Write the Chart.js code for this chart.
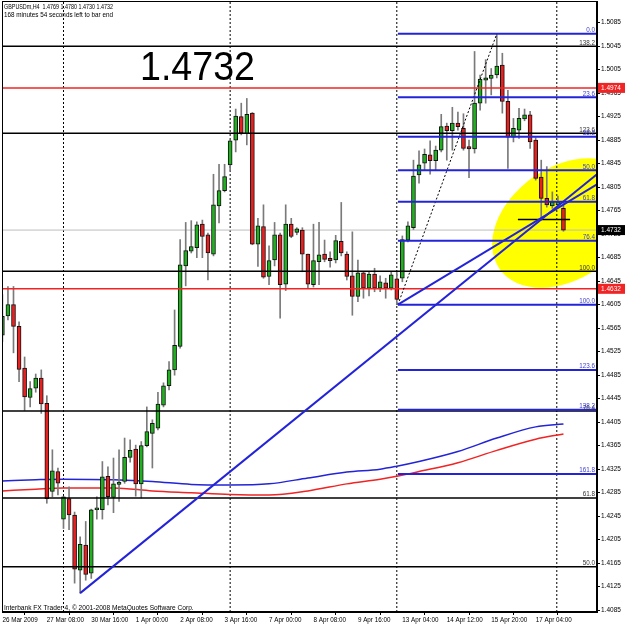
<!DOCTYPE html>
<html><head><meta charset="utf-8">
<script src="https://cdn.jsdelivr.net/npm/chart.js@4.4.1/dist/chart.umd.min.js"></script>
<style>html,body{margin:0;padding:0;background:#fff}canvas{display:block}</style>
</head><body>
<canvas id="c" width="625" height="625"></canvas>
<script>
// ---- DATA (GBPUSDm, H4) ----
const opens = [1.4553,1.4586,1.4605,1.4568,1.4497,1.4447,1.4463,1.4480,1.4437,1.4287,
1.4321,1.4240,1.4275,1.4247,1.4153,1.4196,1.4148,1.4256,1.4256,1.4313,
1.4277,1.4299,1.4304,1.4345,1.4359,1.4300,1.4365,1.4386,1.4395,1.4434,
1.4467,1.4494,1.4534,1.4671,1.4696,1.4702,1.4742,1.4724,1.4691,1.4773,
1.4799,1.4843,1.4885,1.4925,1.4896,1.4931,1.4708,1.4738,1.4653,1.4681,
1.4724,1.4640,1.4742,1.4728,1.4732,1.4691,1.4639,1.4678,1.4691,1.4684,
1.4681,1.4713,1.4691,1.4654,1.4619,1.4659,1.4633,1.4657,1.4633,1.4642,
1.4633,1.4649,1.4650,1.4715,1.4736,1.4826,1.4846,1.4860,1.4850,1.4868,
1.4909,1.4901,1.4914,1.4905,1.4874,1.4870,1.4948,1.4987,1.4990,1.4996,
1.5013,1.4951,1.4890,1.4902,1.4921,1.4928,1.4885,1.4822,1.4786,1.4773,
1.4775,1.4769];
const highs = [1.4622,1.4636,1.4636,1.4576,1.4516,1.4474,1.4487,1.4494,1.4450,1.4358,
1.4327,1.4279,1.4295,1.4252,1.4210,1.4236,1.4257,1.4278,1.4338,1.4329,
1.4344,1.4358,1.4378,1.4375,1.4366,1.4372,1.4431,1.4409,1.4456,1.4472,
1.4508,1.4596,1.4716,1.4745,1.4748,1.4746,1.4749,1.4727,1.4827,1.4844,
1.4844,1.4885,1.4938,1.4948,1.4956,1.4932,1.4752,1.4775,1.4705,1.4745,
1.4727,1.4775,1.4752,1.4736,1.4736,1.4691,1.4742,1.4745,1.4715,1.4695,
1.4723,1.4779,1.4695,1.4729,1.4681,1.4661,1.4661,1.4667,1.4654,1.4650,
1.4661,1.4660,1.4722,1.4746,1.4851,1.4867,1.4870,1.4884,1.4875,1.4929,
1.4914,1.4941,1.4933,1.4930,1.4885,1.5036,1.4996,1.5022,1.5007,1.5066,
1.5033,1.4970,1.4922,1.4939,1.4938,1.4934,1.4889,1.4851,1.4840,1.4797,
1.4790,1.4780];
const lows = [1.4542,1.4579,1.4523,1.4474,1.4425,1.4431,1.4456,1.4420,1.4267,1.4278,
1.4281,1.4224,1.4222,1.4131,1.4114,1.4136,1.4139,1.4240,1.4240,1.4264,
1.4251,1.4270,1.4301,1.4337,1.4279,1.4276,1.4363,1.4327,1.4392,1.4431,
1.4460,1.4485,1.4531,1.4637,1.4693,1.4685,1.4685,1.4647,1.4688,1.4744,
1.4797,1.4834,1.4865,1.4894,1.4877,1.4707,1.4670,1.4650,1.4639,1.4671,
1.4582,1.4629,1.4719,1.4724,1.4661,1.4633,1.4635,1.4639,1.4678,1.4669,
1.4676,1.4688,1.4647,1.4587,1.4610,1.4616,1.4620,1.4627,1.4627,1.4616,
1.4630,1.4605,1.4644,1.4712,1.4733,1.4812,1.4834,1.4827,1.4834,1.4865,
1.4851,1.4868,1.4902,1.4868,1.4821,1.4863,1.4936,1.4948,1.4962,1.4991,
1.4931,1.4837,1.4882,1.4888,1.4918,1.4871,1.4817,1.4749,1.4771,1.4769,
1.4771,1.4730];
const closes = [1.4585,1.4605,1.4568,1.4495,1.4448,1.4462,1.4480,1.4436,1.4275,1.4322,
1.4301,1.4278,1.4247,1.4155,1.4197,1.4146,1.4256,1.4259,1.4312,1.4278,
1.4300,1.4303,1.4345,1.4357,1.4300,1.4365,1.4389,1.4403,1.4436,1.4467,
1.4494,1.4536,1.4673,1.4697,1.4704,1.4741,1.4721,1.4693,1.4775,1.4799,
1.4823,1.4884,1.4926,1.4897,1.4929,1.4708,1.4739,1.4652,1.4680,1.4724,
1.4639,1.4742,1.4721,1.4734,1.4691,1.4640,1.4680,1.4690,1.4682,1.4680,
1.4714,1.4693,1.4653,1.4619,1.4659,1.4633,1.4657,1.4633,1.4644,1.4633,
1.4656,1.4614,1.4716,1.4739,1.4824,1.4843,1.4861,1.4850,1.4868,1.4908,
1.4901,1.4914,1.4908,1.4871,1.4870,1.4948,1.4989,1.4991,1.4996,1.5011,
1.4951,1.4890,1.4905,1.4922,1.4928,1.4882,1.4820,1.4786,1.4775,1.4780,
1.4780,1.4732];

// moving averages (sampled at bar indexes)
const maIdx  = [0,6,11,20,27,34,41,48,55,62,68,71,75,82,89,96,101];
const maBlue = [1.4305,1.4307,1.4308,1.4307,1.4304,1.4299,1.4298,1.4300,1.4310,1.4320,1.4325,1.4330,1.4338,1.4355,1.4378,1.4397,1.4402];
const maRed  = [1.4288,1.4291,1.4293,1.4293,1.4288,1.4285,1.4282,1.4281,1.4288,1.4300,1.4308,1.4313,1.4321,1.4336,1.4357,1.4376,1.4385];

// fibonacci levels
const blueFibLevels = [1.5066,1.4958,1.4891,1.4834,1.4780,1.4714,1.4605,1.4494,1.4426,1.4317];
const blueFibLabels = ['0.0','23.6','38.2','50.0','61.8','76.4','100.0','123.6','138.2','161.8'];
const blueFibStart = 71.2;
const blackFibLevels = [1.5045,1.4897,1.4662,1.4424,1.4276,1.4159];
const blackFibLabels = ['138.2','123.6','100.0','76.4','61.8','50.0'];
const redLevels = [1.4974,1.4632];
const bidPrice = 1.4732;

// trend lines [x0,y0,x1,y1] (bar index / price)
const trendLines = [[14,1.4114,107.04,1.4827],[71.2,1.4605,107.04,1.4810]];
const fibDiagonal = [71.2,1.4605,89,1.5066];
const shortSegment = [92.8,1.4750,102.2,1.4750];
const separators = [11,41,71,99.8];
const ellipse = {x:101.3, y:1.4744, rx:14.4, ry:0.0095, rot:-35};

// axes
const xTickIdx = [0,8,16,24,32,40,48,56,64,72,80,88,96];
const xTickLabels = ['26 Mar 2009','27 Mar 08:00','30 Mar 16:00','1 Apr 00:00','2 Apr 08:00','3 Apr 16:00','7 Apr 00:00','8 Apr 08:00','9 Apr 16:00','13 Apr 04:00','14 Apr 12:00','15 Apr 20:00','17 Apr 04:00'];
const yTicks = [1.5085,1.5045,1.5005,1.4965,1.4925,1.4885,1.4845,1.4805,1.4765,1.4725,1.4685,1.4645,1.4605,1.4565,1.4525,1.4485,1.4445,1.4405,1.4365,1.4325,1.4285,1.4245,1.4205,1.4165,1.4125,1.4085];
const X_MIN = -0.07, X_MAX = 107.04, Y_MIN = 1.40819, Y_MAX = 1.51219;

const headerText1 = 'GBPUSDm,H4  1.4769 1.4780 1.4730 1.4732';
const headerText2 = '168 minutes 54 seconds left to bar end';
const bigText = '1.4732';
const footerText = 'Interbank FX Trader 4, \u00A9 2001-2008 MetaQuotes Software Corp.';

// ---- CHART ----
const FONT = '"Liberation Sans", Arial, sans-serif';
const GREEN = '#20b020', RED = '#e82020', BLUE = '#2323d8', LRED = '#f02424';
const idx = opens.map((_, i) => i);

const hline = (lv, x0, color, w, order) => ({type:'line', data:[{x:x0,y:lv},{x:X_MAX,y:lv}], borderColor:color, borderWidth:w, pointRadius:0, order});
const seg = (s, color, w, dash, order) => ({type:'line', data:[{x:s[0],y:s[1]},{x:s[2],y:s[3]}], borderColor:color, borderWidth:w, borderDash:dash, pointRadius:0, order});

const datasets = [];
// candles
datasets.push({type:'bar', data: idx.map(i => ({x:i, y:[lows[i], highs[i]]})), backgroundColor:'#7a7a7a', borderWidth:0, barThickness:1, grouped:false, order:6});
datasets.push({type:'bar', data: idx.map(i => ({x:i, y:[opens[i], closes[i]]})), backgroundColor: idx.map(i => closes[i] >= opens[i] ? GREEN : RED), borderColor:'#111', borderWidth:1, borderSkipped:false, barThickness:4, grouped:false, order:5});
// moving averages
datasets.push({type:'line', data: maIdx.map((x,k)=>({x, y:maBlue[k]})), borderColor:BLUE, borderWidth:1.5, pointRadius:0, cubicInterpolationMode:'monotone', order:7});
datasets.push({type:'line', data: maIdx.map((x,k)=>({x, y:maRed[k]})), borderColor:LRED, borderWidth:1.5, pointRadius:0, cubicInterpolationMode:'monotone', order:7});
// separators
separators.forEach(s => datasets.push({type:'line', data:[{x:s,y:Y_MIN},{x:s,y:Y_MAX}], borderColor:'#000', borderWidth:1, borderDash:[2,2], pointRadius:0, order:9}));
// horizontal lines
datasets.push(hline(bidPrice, X_MIN, '#bdbdbd', 1, 8));
blackFibLevels.forEach(v => datasets.push(hline(v, X_MIN, '#000', 1.5, 3)));
redLevels.forEach(v => datasets.push(hline(v, X_MIN, LRED, 1.5, 3)));
blueFibLevels.forEach(v => datasets.push(hline(v, blueFibStart, BLUE, 2, 2)));
datasets.push(seg(shortSegment, '#000', 1.5, [], 2));
datasets.push(seg(fibDiagonal, '#000', 1, [2,2], 2));
trendLines.forEach(t => datasets.push(seg(t, BLUE, 2, [], 1)));

const overlay = {
  id:'overlay',
  beforeDraw(chart){ const c = chart.ctx; c.save(); c.fillStyle='#fff'; c.fillRect(0,0,chart.width,chart.height); c.restore(); },
  beforeDatasetsDraw(chart){
    const {ctx, chartArea:a, scales:{x,y}} = chart;
    ctx.save();
    ctx.beginPath(); ctx.rect(a.left, a.top, a.right-a.left, a.bottom-a.top); ctx.clip();
    const cx = x.getPixelForValue(ellipse.x), cy = y.getPixelForValue(ellipse.y);
    const rx = Math.abs(x.getPixelForValue(ellipse.x + ellipse.rx) - cx);
    const ry = Math.abs(y.getPixelForValue(ellipse.y + ellipse.ry) - cy);
    ctx.fillStyle = '#ffff00';
    ctx.beginPath(); ctx.ellipse(cx, cy, rx, ry, ellipse.rot*Math.PI/180, 0, 2*Math.PI); ctx.fill();
    ctx.restore();
  },
  afterDatasetsDraw(chart){
    const {ctx, chartArea:a, scales:{y}} = chart;
    ctx.save();
    ctx.font = '6.3px ' + FONT; ctx.textAlign = 'right'; ctx.textBaseline = 'alphabetic';
    ctx.fillStyle = '#333';
    blackFibLevels.forEach((v,k) => ctx.fillText(blackFibLabels[k], a.right-2, y.getPixelForValue(v)-1.5));
    ctx.fillStyle = '#4040d0';
    blueFibLevels.forEach((v,k) => ctx.fillText(blueFibLabels[k], a.right-2, y.getPixelForValue(v)-1.5));
    ctx.restore();
  },
  afterDraw(chart){
    const {ctx, chartArea:a, scales:{y}} = chart;
    ctx.save();
    ctx.strokeStyle = '#000'; ctx.lineWidth = 1;
    ctx.strokeRect(Math.round(a.left)+0.5, Math.round(a.top)+0.5, Math.round(a.right-a.left)-1, Math.round(a.bottom-a.top)-1);
    ctx.fillStyle = '#000'; ctx.textAlign = 'left'; ctx.textBaseline = 'alphabetic';
    ctx.font = '6.6px ' + FONT;
    ctx.fillText(headerText1, 4, 9, 109);
    ctx.fillText(headerText2, 4, 16.7, 109);
    ctx.fillText(footerText, 4, 610, 202);
    ctx.font = '40px ' + FONT;
    ctx.fillText(bigText, 140, 80, 115);
    ctx.font = '6.5px ' + FONT; ctx.textBaseline = 'middle';
    [[redLevels[0], LRED],[redLevels[1], LRED],[bidPrice,'#000']].forEach(([v,bg]) => {
      const py = y.getPixelForValue(v);
      ctx.fillStyle = bg; ctx.fillRect(a.right+1, py-5, 27, 10);
      ctx.fillStyle = '#fff'; ctx.fillText(v.toFixed(4), a.right+4, py+0.5);
    });
    ctx.restore();
  }
};

new Chart(document.getElementById('c'), {
  type:'bar',
  data:{datasets},
  plugins:[overlay],
  options:{
    responsive:false, devicePixelRatio:1, animation:false,
    layout:{padding:{left:2, top:1, right:0, bottom:0}},
    plugins:{legend:{display:false}, tooltip:{enabled:false}},
    scales:{
      x:{type:'linear', min:X_MIN, max:X_MAX, offset:false, position:'bottom',
        grid:{drawOnChartArea:false, drawTicks:true, tickLength:3, color:'#000'},
        border:{display:true, color:'#000'},
        ticks:{autoSkip:false, maxRotation:0, minRotation:0, align:'start', padding:1, color:'#000', font:{family:FONT, size:6.3},
          callback:(v)=>{const k = xTickIdx.indexOf(v); return k >= 0 ? xTickLabels[k] : '';}},
        afterBuildTicks:(s)=>{ s.ticks = xTickIdx.map(v=>({value:v})); },
        afterFit:(s)=>{ s.height = 13; s.paddingLeft = 0; s.paddingRight = 0; }
      },
      y:{type:'linear', position:'right', min:Y_MIN, max:Y_MAX,
        grid:{drawOnChartArea:false, drawTicks:true, tickLength:3, color:'#000'},
        border:{display:true, color:'#000'},
        ticks:{autoSkip:false, padding:1, color:'#000', font:{family:FONT, size:6.5}, callback:(v)=>Number(v).toFixed(4)},
        afterBuildTicks:(s)=>{ s.ticks = yTicks.map(v=>({value:v})); },
        afterFit:(s)=>{ s.width = 28; s.paddingTop = 0; s.paddingBottom = 0; }
      }
    }
  }
});
</script>
</body></html>
